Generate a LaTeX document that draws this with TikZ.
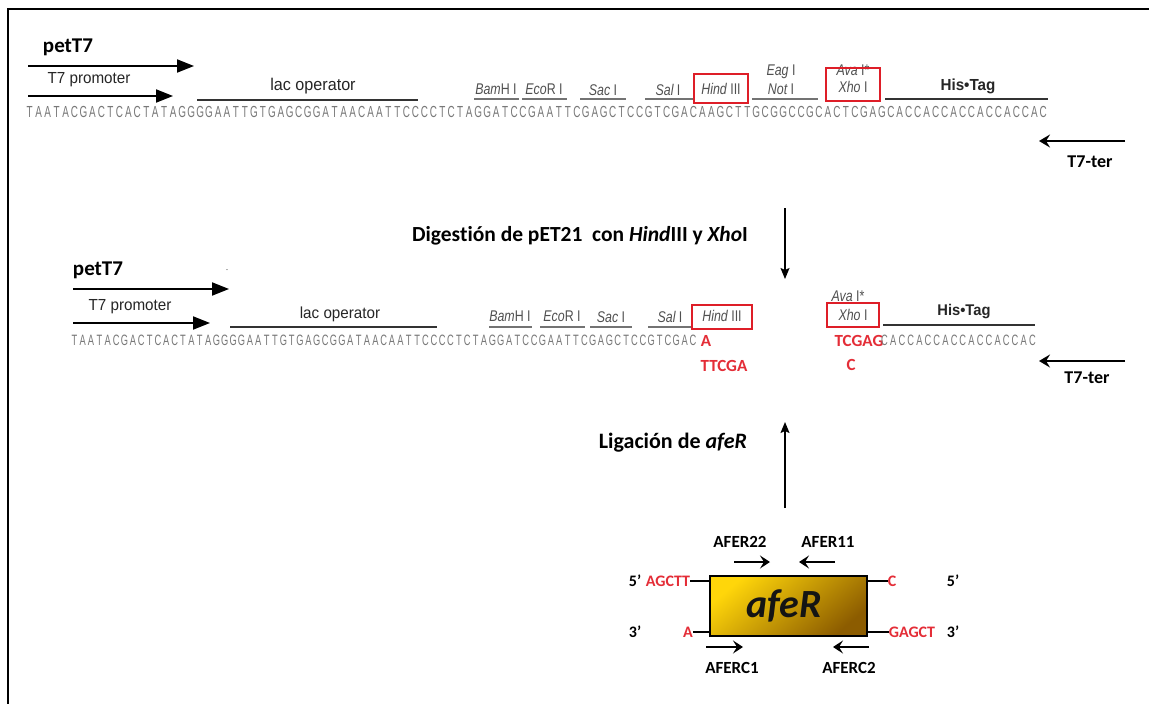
\documentclass[tikz,border=0pt]{standalone}
\usepackage{fontspec}
\setmainfont[Ligatures=NoCommon]{Carlito}
\newfontfamily\arialn[FakeStretch=0.95]{Liberation Sans}
\newfontfamily\sitefont[FakeStretch=0.8]{Liberation Sans}
\newfontfamily\seqfont[FakeStretch=0.62]{Liberation Sans}
\usetikzlibrary{arrows.meta}
\definecolor{seqgray}{RGB}{120,120,120}
\definecolor{labgray}{RGB}{80,80,80}
\definecolor{sitered}{RGB}{222,30,40}
\definecolor{txtred}{RGB}{228,45,55}
\definecolor{goldA}{RGB}{255,214,10}
\definecolor{goldB}{RGB}{140,92,0}
\newlength\seqw
\def\seqrun#1{\seqA#1\relax}
\def\seqA#1{\ifx#1\relax\else\makebox[\seqw][c]{#1}\expandafter\seqA\fi}
\tikzset{
  cal/.style={inner sep=0pt, font=\bfseries\fontsize{#1}{#1}\selectfont},
  cal/.default=16,
  ar/.style={inner sep=0pt, font=\arialn\fontsize{#1}{#1}\selectfont, text=black!85},
  ar/.default=16,
  site/.style={inner sep=0pt, font=\sitefont\fontsize{15.5}{15.5}\selectfont, text=labgray},
  seqtxt/.style={inner sep=0pt, anchor=west, text=seqgray, font=\seqfont\fontsize{#1}{#1}\selectfont},
  redtxt/.style={inner sep=0pt, text=txtred, font=\bfseries\fontsize{#1}{#1}\selectfont},
  redtxt/.default=16,
  bigarrow/.style={line width=2pt, -{Triangle[length=17pt,width=13pt]}},
  terarrow/.style={line width=2.2pt, -{Stealth[length=11pt,width=13pt,inset=4pt]}},
  vertarrow/.style={line width=1.4pt, -{Stealth[length=11pt,width=9pt,inset=2pt]}},
  primer/.style={line width=2.4pt, -{Stealth[length=10pt,width=13pt,inset=4pt]}},
  bar/.style={line width=2.6pt, black!80},
  uline/.style={line width=1.4pt, labgray!80},
  sitebox/.style={draw=sitered, line width=2.6pt},
  gline/.style={line width=1.2pt},
}
\begin{document}
\begin{tikzpicture}[x=1pt,y=-1pt]
\useasboundingbox (0,0) rectangle (1149,704);
\fill[white] (0,0) rectangle (1149,704);
% frame
\coordinate (fa) at (8,704);
\coordinate (fb) at (8,9);
\coordinate (fc) at (1149,9);
\draw[line width=1.6pt] (fa) -- (fb) -- (fc);

% ================= TOP ROW =================
\node[cal=21] (petA) at (68,47) {petT7};
\coordinate (pA1) at (28,66); \coordinate (pA2) at (194,66);
\draw[bigarrow] (pA1) -- (pA2);
\node[ar=16] (t7pA) at (89,80) {T7 promoter};
\coordinate (tA1) at (28,96); \coordinate (tA2) at (173,96);
\draw[bigarrow] (tA1) -- (tA2);
\node[ar=17] (lacA) at (313,86) {lac operator};
\coordinate (lA1) at (197,100); \coordinate (lA2) at (418,100);
\draw[bar] (lA1) -- (lA2);
\node[seqtxt=16] (seqA) at (25,112) {\setlength\seqw{8.97pt}\seqrun{TAATACGACTCACTATAGGGGAATTGTGAGCGGATAACAATTCCCCTCTAGGATCCGAATTCGAGCTCCGTCGACAAGCTTGCGGCCGCACTCGAGCACCACCACCACCACCAC}};

\node[site] (bamA) at (496,89) {\itshape Bam\upshape H I};
\coordinate (ubA1) at (474,99); \coordinate (ubA2) at (519,99);
\draw[uline] (ubA1) -- (ubA2);
\node[site] (ecoA) at (544,89) {\itshape Eco\upshape R I};
\coordinate (ueA1) at (522,99); \coordinate (ueA2) at (567,99);
\draw[uline] (ueA1) -- (ueA2);
\node[site] (sacA) at (603,90) {\itshape Sac\upshape\ I};
\coordinate (usA1) at (580,99); \coordinate (usA2) at (626,99);
\draw[uline] (usA1) -- (usA2);
\node[site] (salA) at (668,90) {\itshape Sal\upshape\ I};
\coordinate (ulA1) at (645,99); \coordinate (ulA2) at (693,99);
\draw[uline] (ulA1) -- (ulA2);
\node[site] (hindA) at (721,89) {\itshape Hind\upshape\ III};
\draw[sitebox] (694,74) rectangle (748,103);
\node[site] (eagA) at (781,72) {\itshape Eag\upshape\ I};
\node[site] (notA) at (781,89) {\itshape Not\upshape\ I};
\coordinate (unA1) at (752,99); \coordinate (unA2) at (818,99);
\draw[uline] (unA1) -- (unA2);
\node[site] (avaA) at (853,70) {\itshape Ava\upshape\ I*};
\node[site] (xhoA) at (853,87) {\itshape Xho\upshape\ I};
\draw[sitebox] (826,68) rectangle (880,101);
\node[inner sep=0pt, text=black!85, font=\arialn\bfseries\fontsize{16}{16}\selectfont] (hisA) at (968,86) {His\textbullet Tag};
\coordinate (hA1) at (885,99); \coordinate (hA2) at (1048,99);
\draw[bar] (hA1) -- (hA2);

\coordinate (tt1) at (1125,141); \coordinate (tt2) at (1039,141);
\draw[terarrow] (tt1) -- (tt2);
\node[cal=18] (terA) at (1090,162) {T7-ter};

% ================= DIGESTION =================
\coordinate (dA) at (785,208); \coordinate (dB) at (785,279);
\draw[vertarrow] (dA) -- (dB);
\node[cal=21.5] (dig) at (580,236) {Digestión de pET21\ \ con \textit{Hind}III y \textit{Xho}I};

% ================= SECOND ROW =================
\node[cal=21] (petB) at (98,270) {petT7};
\node[inner sep=0pt, font=\fontsize{8}{8}\selectfont, text=black!60] (dashB) at (227,271) {-};
\coordinate (pB1) at (73,289); \coordinate (pB2) at (229,289);
\draw[bigarrow] (pB1) -- (pB2);
\node[ar=16] (t7pB) at (130,307) {T7 promoter};
\coordinate (tB1) at (73,323); \coordinate (tB2) at (210,323);
\draw[bigarrow] (tB1) -- (tB2);
\node[ar=16] (lacB) at (340,314) {lac operator};
\coordinate (lB1) at (230,327); \coordinate (lB2) at (437,327);
\draw[bar] (lB1) -- (lB2);
\node[seqtxt=15] (seqB) at (70,340) {\setlength\seqw{8.36pt}\seqrun{TAATACGACTCACTATAGGGGAATTGTGAGCGGATAACAATTCCCCTCTAGGATCCGAATTCGAGCTCCGTCGAC}};
\node[redtxt=17] (redA) at (706,341) {A};
\node[redtxt=17] (redTT) at (724,366) {TTCGA};

\node[site] (bamB) at (510,316) {\itshape Bam\upshape H I};
\coordinate (ubB1) at (489,327); \coordinate (ubB2) at (532,327);
\draw[uline] (ubB1) -- (ubB2);
\node[site] (ecoB) at (562,316) {\itshape Eco\upshape R I};
\coordinate (ueB1) at (540,327); \coordinate (ueB2) at (585,327);
\draw[uline] (ueB1) -- (ueB2);
\node[site] (sacB) at (611,317) {\itshape Sac\upshape\ I};
\coordinate (usB1) at (590,327); \coordinate (usB2) at (632,327);
\draw[uline] (usB1) -- (usB2);
\node[site] (salB) at (670,317) {\itshape Sal\upshape\ I};
\coordinate (ulB1) at (648,327); \coordinate (ulB2) at (692,327);
\draw[uline] (ulB1) -- (ulB2);
\node[site] (hindB) at (722,316) {\itshape Hind\upshape\ III};
\draw[sitebox] (692,305) rectangle (752,329);

\node[site] (avaB) at (848,296) {\itshape Ava\upshape\ I*};
\node[site] (xhoB) at (853,315) {\itshape Xho\upshape\ I};
\draw[sitebox] (827,303) rectangle (879,327);
\node[redtxt=17] (redTC) at (859,341) {TCGAG};
\node[seqtxt=15] (seqC) at (880,340) {\setlength\seqw{8.7pt}\seqrun{CACCACCACCACCACCAC}};
\node[redtxt=17] (redC) at (851,365) {C};
\node[inner sep=0pt, text=black!85, font=\arialn\bfseries\fontsize{15.5}{15.5}\selectfont] (hisB) at (964,312) {His\textbullet Tag};
\coordinate (hB1) at (883,325); \coordinate (hB2) at (1035,325);
\draw[bar] (hB1) -- (hB2);

\coordinate (tu1) at (1125,361); \coordinate (tu2) at (1039,361);
\draw[terarrow] (tu1) -- (tu2);
\node[cal=18] (terB) at (1087,378) {T7-ter};

% ================= LIGATION =================
\coordinate (uA) at (785,508); \coordinate (uB) at (785,422);
\draw[vertarrow] (uA) -- (uB);
\node[cal=22] (lig) at (673,443) {Ligación de \textit{afeR}};

% ================= GENE =================
\shade[top color=goldA, bottom color=goldB, shading angle=40] (710,576) rectangle (867,636);
\node[draw, line width=1.3pt, minimum width=157pt, minimum height=60pt, inner sep=0pt] (gene) at (788.5,606) {};
\node[inner sep=0pt, font=\bfseries\itshape\fontsize{40}{40}\selectfont, text=black!92] (geneLbl) at (784,606) {afeR};

\node[cal=16] (p5L) at (635,581) {5'};
\node[redtxt=16] (agctt) at (668,581) {AGCTT};
\coordinate (gL1) at (692,581);
\draw[gline] (agctt.east) -- (gene.west |- gL1);
\node[redtxt=16] (cR) at (892,581) {C};
\draw[gline] (gene.east |- gL1) -- (cR.west);
\node[cal=16] (p5R) at (953,581) {5'};

\node[cal=16] (p3L) at (635,632) {3'};
\node[redtxt=16] (aL) at (688,632) {A};
\coordinate (gL2) at (692,632);
\draw[gline] (aL.east) -- (gene.west |- gL2);
\node[redtxt=16] (gagct) at (912,632) {GAGCT};
\draw[gline] (gene.east |- gL2) -- (gagct.west);
\node[cal=16] (p3R) at (953,632) {3'};

\node[cal=17] (f22) at (740,542) {AFER22};
\coordinate (a22a) at (734,562); \coordinate (a22b) at (770,562);
\draw[primer] (a22a) -- (a22b);
\node[cal=17] (f11) at (828,542) {AFER11};
\coordinate (a11a) at (835,562); \coordinate (a11b) at (799,562);
\draw[primer] (a11a) -- (a11b);
\coordinate (c1a) at (706,647); \coordinate (c1b) at (743,647);
\draw[primer] (c1a) -- (c1b);
\node[cal=17] (fc1) at (732,668) {AFERC1};
\coordinate (c2a) at (869,647); \coordinate (c2b) at (833,647);
\draw[primer] (c2a) -- (c2b);
\node[cal=17] (fc2) at (849,668) {AFERC2};
\end{tikzpicture}
\end{document}
